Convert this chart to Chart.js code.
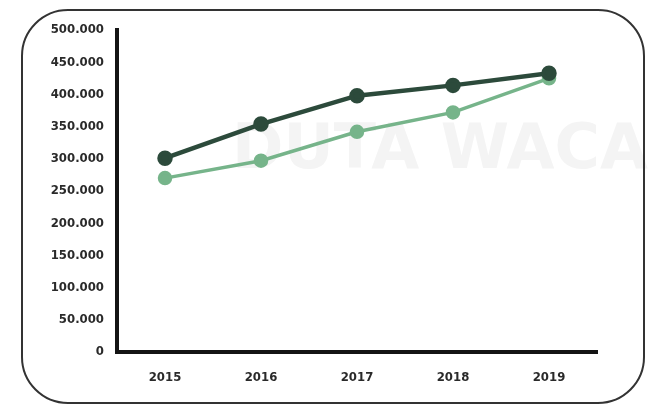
<!DOCTYPE html>
<html>
<head>
<meta charset="utf-8">
<script src="https://cdn.jsdelivr.net/npm/chart.js@4.4.1/dist/chart.umd.min.js"></script>
<style>
  html, body { margin: 0; padding: 0; background: #fff; }
  #wrap { width: 652px; height: 406px; position: relative; }
</style>
</head>
<body>
<div id="wrap"><canvas id="chart"></canvas></div>
<script>
// data
const years = ['2015', '2016', '2017', '2018', '2019'];
const seriesDark = [301000, 354000, 398000, 414000, 433000];
const seriesLight = [270000, 297000, 342000, 372000, 425000];
const yTicks = [0, 50000, 100000, 150000, 200000, 250000, 300000, 350000, 400000, 450000, 500000];

function fmt(v) {
  return v === 0 ? '0' : (v / 1000).toFixed(0) + '.000';
}

// rounded frame + faint watermark behind the chart
const frame = {
  id: 'frame',
  beforeDraw(chart) {
    const ctx = chart.ctx;
    ctx.save();
    ctx.fillStyle = '#f4f4f4';
    ctx.font = 'bold 62px "DejaVu Sans"';
    ctx.textBaseline = 'alphabetic';
    ctx.fillText('DUTA WACANA', 232, 168);
    ctx.strokeStyle = '#333';
    ctx.lineWidth = 2;
    ctx.beginPath();
    ctx.roundRect(22, 10, 622, 393, 46);
    ctx.stroke();
    ctx.restore();
  }
};

new Chart(document.getElementById('chart'), {
  type: 'line',
  data: {
    labels: years,
    datasets: [{
      label: 'A',
      data: seriesDark,
      borderColor: '#2c4a3b',
      backgroundColor: '#2c4a3b',
      borderWidth: 4.5,
      pointRadius: 5.5,
      pointHoverRadius: 5.5,
      tension: 0
    }, {
      label: 'B',
      data: seriesLight,
      borderColor: '#76b48a',
      backgroundColor: '#76b48a',
      borderWidth: 3.5,
      pointRadius: 5.5,
      pointHoverRadius: 5.5,
      tension: 0
    }]
  },
  options: {
    responsive: true,
    maintainAspectRatio: false,
    animation: false,
    layout: { padding: { top: 30, right: 55, left: 0, bottom: 0 } },
    plugins: {
      legend: { display: false },
      tooltip: { enabled: false }
    },
    scales: {
      x: {
        offset: true,
        grid: { display: false, drawTicks: false },
        border: { display: true, color: '#141414', width: 4 },
        ticks: {
          color: '#2a2a2a',
          padding: 18,
          font: { family: '"DejaVu Sans Condensed"', weight: 'bold', size: 13 }
        },
        afterFit(scale) { scale.height = 54; }
      },
      y: {
        min: 0,
        max: 500000,
        afterBuildTicks(scale) { scale.ticks = yTicks.map(v => ({ value: v })); },
        grid: { display: false, drawTicks: false },
        border: { display: true, color: '#141414', width: 4 },
        ticks: {
          color: '#2a2a2a',
          padding: 13,
          font: { family: '"DejaVu Sans Condensed"', weight: 'bold', size: 13 },
          callback: v => fmt(v)
        },
        afterFit(scale) { scale.width = 117; }
      }
    }
  },
  plugins: [frame]
});
</script>
</body>
</html>
